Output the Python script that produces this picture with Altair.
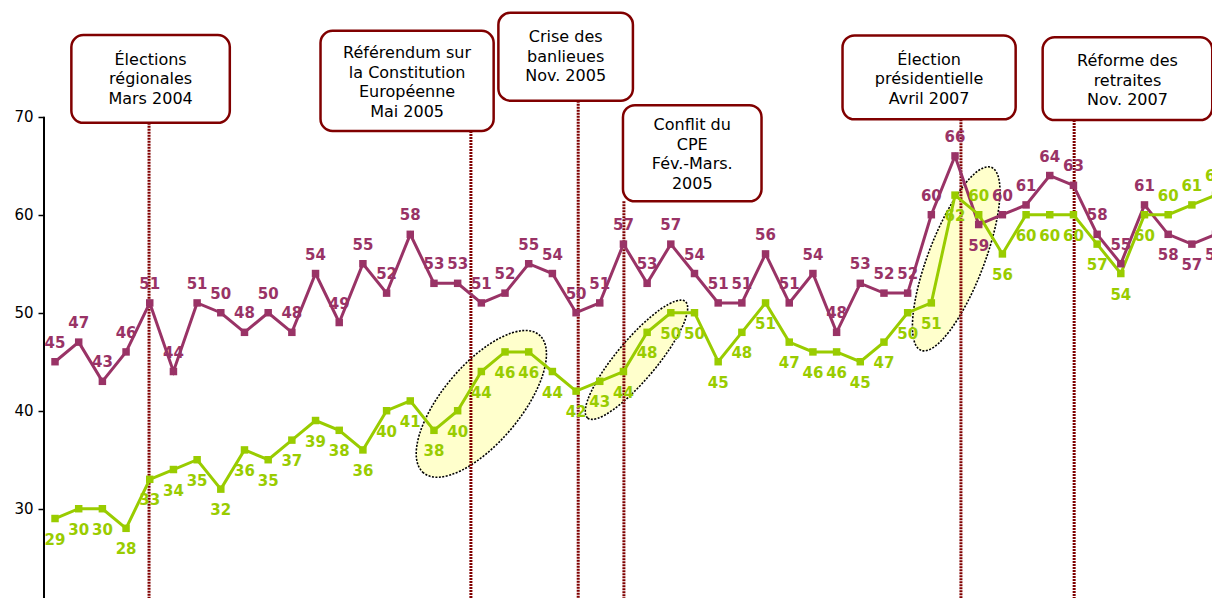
import altair as alt
import pandas as pd

# ---- data ----
purple = [45, 47, 43, 46, 51, 44, 51, 50, 48, 50,
          48, 54, 49, 55, 52, 58, 53, 53, 51, 52,
          55, 54, 50, 51, 57, 53, 57, 54, 51, 51,
          56, 51, 54, 48, 53, 52, 52, 60, 66, 59,
          60, 61, 64, 63, 58, 55, 61, 58, 57, 58]
green = [29, 30, 30, 28, 33, 34, 35, 32, 36, 35,
         37, 39, 38, 36, 40, 41, 38, 40, 44, 46,
         46, 44, 42, 43, 44, 48, 50, 50, 45, 48,
         51, 47, 46, 46, 45, 47, 50, 51, 62, 60,
         56, 60, 60, 60, 57, 54, 60, 60, 61, 62]
purple_labels_below = [39, 47, 48, 49]
green_labels_above = [39, 47, 48, 49]

event_labels = [
    "Élections\nrégionales\nMars 2004",
    "Référendum sur\nla Constitution\nEuropéenne\nMai 2005",
    "Crise des\nbanlieues\nNov. 2005",
    "Conflit du\nCPE\nFév.-Mars.\n2005",
    "Élection\nprésidentielle\nAvril 2007",
    "Réforme des\nretraites\nNov. 2007",
]
event_x = [3.97, 17.56, 22.09, 24.02, 38.25, 43.03]
box_x1 = [0.69, 11.21, 18.72, 23.98, 33.25, 41.70]
box_x2 = [7.38, 18.52, 24.40, 29.83, 40.56, 48.86]
box_y1 = [78.33, 78.77, 80.61, 71.18, 78.30, 78.10]
box_y2 = [69.38, 68.55, 71.63, 61.37, 69.73, 69.66]
first_line_y = [75.79, 76.50, 78.13, 69.15, 75.79, 75.68]

# highlight ellipses: centre (index, value), semi-axes (px), tilt (deg)
ell_x = [18.0, 24.55, 38.05]
ell_y = [40.7, 45.2, 55.5]
ell_a = [90, 76, 98]
ell_b = [39, 20, 28]
ell_tilt = [50, 50, 69]

PURPLE = "#993366"
GREEN = "#99CC00"
MAROON = "#800000"
FONT = "DejaVu Sans"

X_DOMAIN = [-0.465, 48.85]
Y_DOMAIN = [20.89, 81.91]

rows = []
for i, v in enumerate(purple):
    rows.append({"i": i, "v": v, "s": "A", "pos": "below" if i in purple_labels_below else "above"})
for i, v in enumerate(green):
    rows.append({"i": i, "v": v, "s": "B", "pos": "above" if i in green_labels_above else "below"})
df = pd.DataFrame(rows)

events = pd.DataFrame({
    "label": event_labels, "ex": event_x,
    "x1": box_x1, "x2": box_x2, "y1": box_y1, "y2": box_y2, "ty": first_line_y,
})
events["tx"] = (events["x1"] + events["x2"]) / 2

xs = alt.Scale(domain=X_DOMAIN, nice=False, zero=False)
ys = alt.Scale(domain=Y_DOMAIN, nice=False, zero=False)
yaxis = alt.Axis(values=[30, 40, 50, 60, 70], domain=False, grid=False, ticks=True,
                 tickSize=6, tickColor="black", tickWidth=1.5, labelFont=FONT,
                 labelFontSize=15, labelColor="black", labelPadding=5, title=None)


def X(field):
    return alt.X(field, scale=xs, axis=None, title=None)


def Y(field):
    return alt.Y(field, scale=ys, axis=yaxis, title=None)


color = alt.Color("s:N", scale=alt.Scale(domain=["A", "B"], range=[PURPLE, GREEN]), legend=None)

layers = []

# ellipses
for k in range(len(ell_x)):
    r = ell_b[k] / ell_a[k]
    path = f"M -1 0 A 1 {r:.4f} 0 1 1 1 0 A 1 {r:.4f} 0 1 1 -1 0 Z"
    e = alt.Chart(pd.DataFrame({"x": [ell_x[k]], "y": [ell_y[k]]})).mark_point(
        shape=path, size=(2 * ell_a[k]) ** 2, angle=360 - ell_tilt[k],
        filled=True, fill="#FFFFCC", stroke="black", strokeWidth=1.6,
        strokeDash=[2, 1.5], opacity=1, fillOpacity=1, strokeOpacity=1,
    ).encode(x=X("x:Q"), y=Y("y:Q"))
    layers.append(e)

# event rules
rules = alt.Chart(events).mark_rule(color=MAROON, strokeWidth=3, strokeDash=[2, 1]).encode(
    x=X("ex:Q"), y=Y("y2:Q"), y2=alt.datum(Y_DOMAIN[0]))
layers.append(rules)

# axis line from 70 down
axis_line = alt.Chart(pd.DataFrame({"x": [X_DOMAIN[0]], "y": [70]})).mark_rule(
    color="black", strokeWidth=2).encode(x=X("x:Q"), y=Y("y:Q"), y2=alt.datum(Y_DOMAIN[0]))
layers.append(axis_line)

base = alt.Chart(df).encode(x=X("i:Q"), y=Y("v:Q"), color=color)
layers.append(base.mark_line(strokeWidth=3, clip=True))
layers.append(base.mark_point(shape="square", filled=True, size=56, opacity=1, clip=True))
layers.append(base.mark_text(dy=-19, font=FONT, fontSize=15, fontWeight="bold", clip=True)
              .encode(text="v:Q").transform_filter(alt.datum.pos == "above"))
layers.append(base.mark_text(dy=21, font=FONT, fontSize=15, fontWeight="bold", clip=True)
              .encode(text="v:Q").transform_filter(alt.datum.pos == "below"))

# annotation boxes
boxes = alt.Chart(events).mark_rect(fill="white", stroke=MAROON, strokeWidth=2.5, cornerRadius=12).encode(
    x=X("x1:Q"), x2="x2:Q", y=Y("y1:Q"), y2="y2:Q")
layers.append(boxes)
box_text = alt.Chart(events).mark_text(font=FONT, fontSize=16, lineHeight=19.5, lineBreak="\n",
                                       align="center", baseline="middle", color="black").encode(
    x=X("tx:Q"), y=Y("ty:Q"), text="label:N")
layers.append(box_text)

chart = alt.layer(*layers).properties(
    width=1168, height=598,
    autosize=alt.AutoSizeParams(type="none"),
    padding={"left": 44, "right": 0, "top": 0, "bottom": 0},
    background="white",
).configure_view(stroke=None)

chart.save("out.html", embed_options={"renderer": "svg", "actions": False})
